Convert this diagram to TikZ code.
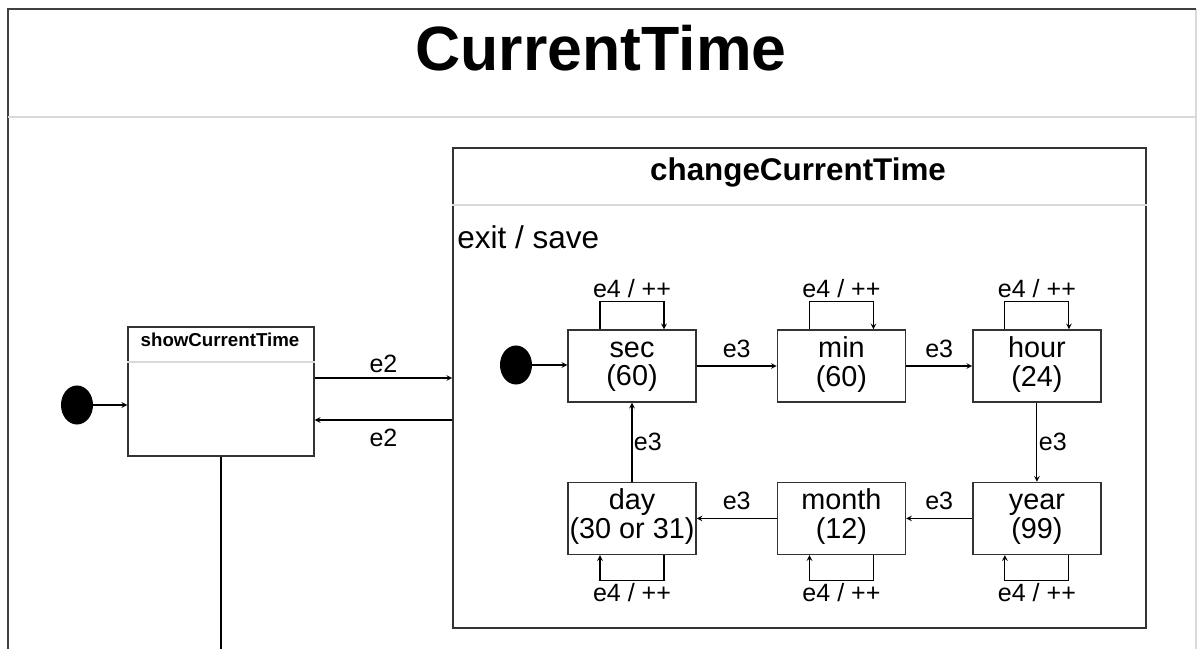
\documentclass[tikz,border=0pt]{standalone}
\usepackage{fontspec}
\setmainfont{Liberation Sans}
\usetikzlibrary{positioning,shapes.geometric,arrows}
% two lines of a state, with fixed line heights
\newcommand{\statetext}[2]{\rule{0pt}{14.7pt}#1\\#2\rule[-6.9pt]{0pt}{6.9pt}}

\begin{document}
\begin{tikzpicture}[x=0.025cm, y=-0.025cm, node distance=2cm]
    \tikzset{
        state/.style={rectangle, draw=black!80, line width=1pt,
        minimum width=3.2cm, minimum height=1.8cm,
        inner sep=0pt, align=center,
        font=\fontsize{20.5}{20.6}\selectfont},
        init/.style={ellipse, fill=black, minimum width=0.8cm,
        minimum height=0.975cm, inner sep=0pt},
        arrow/.style={line width=0.8pt,->,>=stealth},
        lbl/.style={font=\fontsize{17.8}{20}\selectfont, inner sep=2pt},
        sep/.style={draw=black!15, line width=1pt}
    }
    \useasboundingbox (0,0) rectangle (1198,649);

    % outer frame
    \draw[black!15, line width=1pt] (1196,9) -- (1196,649);
    \draw[black!75, line width=1.4pt] (8,649) -- (8,9) -- (1196,9);
    \draw[sep] (8,117) -- (1196,117);
    \node (title) [anchor=base, font=\fontsize{44.5}{50}\selectfont\bfseries] at (601,71) {CurrentTime};

    % showCurrentTime
    \node (show) [rectangle, draw=black!80, line width=1pt,
        minimum width=4.65cm, minimum height=3.225cm] at (221,391.5) {};
    \node (showname) [anchor=base, font=\fontsize{13.3}{15}\selectfont\bfseries] at (220,347) {showCurrentTime};
    \draw[sep] (show.west |- 0,362) -- (show.east |- 0,362);
    \node (init1) [init] at (77,405) {};
    \draw [arrow] (init1) -- (init1 -| show.west);

    % changeCurrentTime
    \node (change) [rectangle, draw=black!80, line width=1pt,
        minimum width=17.325cm, minimum height=12cm] at (799.5,388) {};
    \node (changename) [anchor=base, font=\fontsize{22.3}{26}\selectfont\bfseries] at (798,181) {changeCurrentTime};
    \draw[sep] (change.west |- 0,205) -- (change.east |- 0,205);
    \node (exit) [anchor=base west, inner sep=0pt, font=\fontsize{22.4}{26}\selectfont] at (457,249) {exit / save};

    \node (init2) [init] at (516,365) {};
    \node (sec) [state] at (632,366) {\statetext{sec}{(60)}};
    \node (min) [state, right=2cm of sec] {\statetext{min}{(60)}};
    \node (hour) [state, right=1.65cm of min] {\statetext{hour}{(24)}};
    \node (year) [state, below=1.975cm of hour] {\statetext{year}{(99)}};
    \node (month) [state, below=1.975cm of min] {\statetext{month}{(12)}};
    \node (day) [state, below=1.975cm of sec] {\statetext{day}{(30 or 31)}};

    \draw [arrow] (init2) -- (init2 -| sec.west);
    \draw [arrow] (sec) -- node[lbl, above=3.5pt]{e3} (min);
    \draw [arrow] (min) -- node[lbl, above=3.5pt]{e3} (hour);
    \draw [arrow] (hour) -- node[lbl, right, inner sep=1pt]{e3} (year);
    \draw [arrow] (year) -- node[lbl, above=3.5pt]{e3} (month);
    \draw [arrow] (month) -- node[lbl, above=3.5pt]{e3} (day);
    \draw [arrow] (day) -- node[lbl, right, inner sep=1pt]{e3} (sec);

    % self loops
    \draw [arrow] ([xshift=-0.8cm]sec.north) -- ++(0,0.7cm) -| node[lbl, pos=0.25, above]{e4 / ++} ([xshift=0.8cm]sec.north);
    \draw [arrow] ([xshift=-0.8cm]min.north) -- ++(0,0.7cm) -| node[lbl, pos=0.25, above]{e4 / ++} ([xshift=0.8cm]min.north);
    \draw [arrow] ([xshift=-0.8cm]hour.north) -- ++(0,0.7cm) -| node[lbl, pos=0.25, above]{e4 / ++} ([xshift=0.8cm]hour.north);
    \draw [arrow] ([xshift=0.8cm]year.south) -- ++(0,-0.625cm) -| node[lbl, pos=0.25, below]{e4 / ++} ([xshift=-0.8cm]year.south);
    \draw [arrow] ([xshift=0.8cm]month.south) -- ++(0,-0.625cm) -| node[lbl, pos=0.25, below]{e4 / ++} ([xshift=-0.8cm]month.south);
    \draw [arrow] ([xshift=0.8cm]day.south) -- ++(0,-0.625cm) -| node[lbl, pos=0.25, below]{e4 / ++} ([xshift=-0.8cm]day.south);

    % e2 between the two states
    \coordinate (e2out) at ([yshift=0.3375cm]show.east);
    \coordinate (e2back) at ([yshift=-0.7125cm]show.east);
    \draw [arrow] (e2out) -- node[lbl, above=1pt]{e2} (e2out -| change.west);
    \draw [arrow] (e2back -| change.west) -- node[lbl, below=4pt]{e2} (e2back);

    \coordinate (bottom) at (221,660);
    \draw [line width=2pt] (show.south) -- (show.south |- bottom);
\end{tikzpicture}
\end{document}
